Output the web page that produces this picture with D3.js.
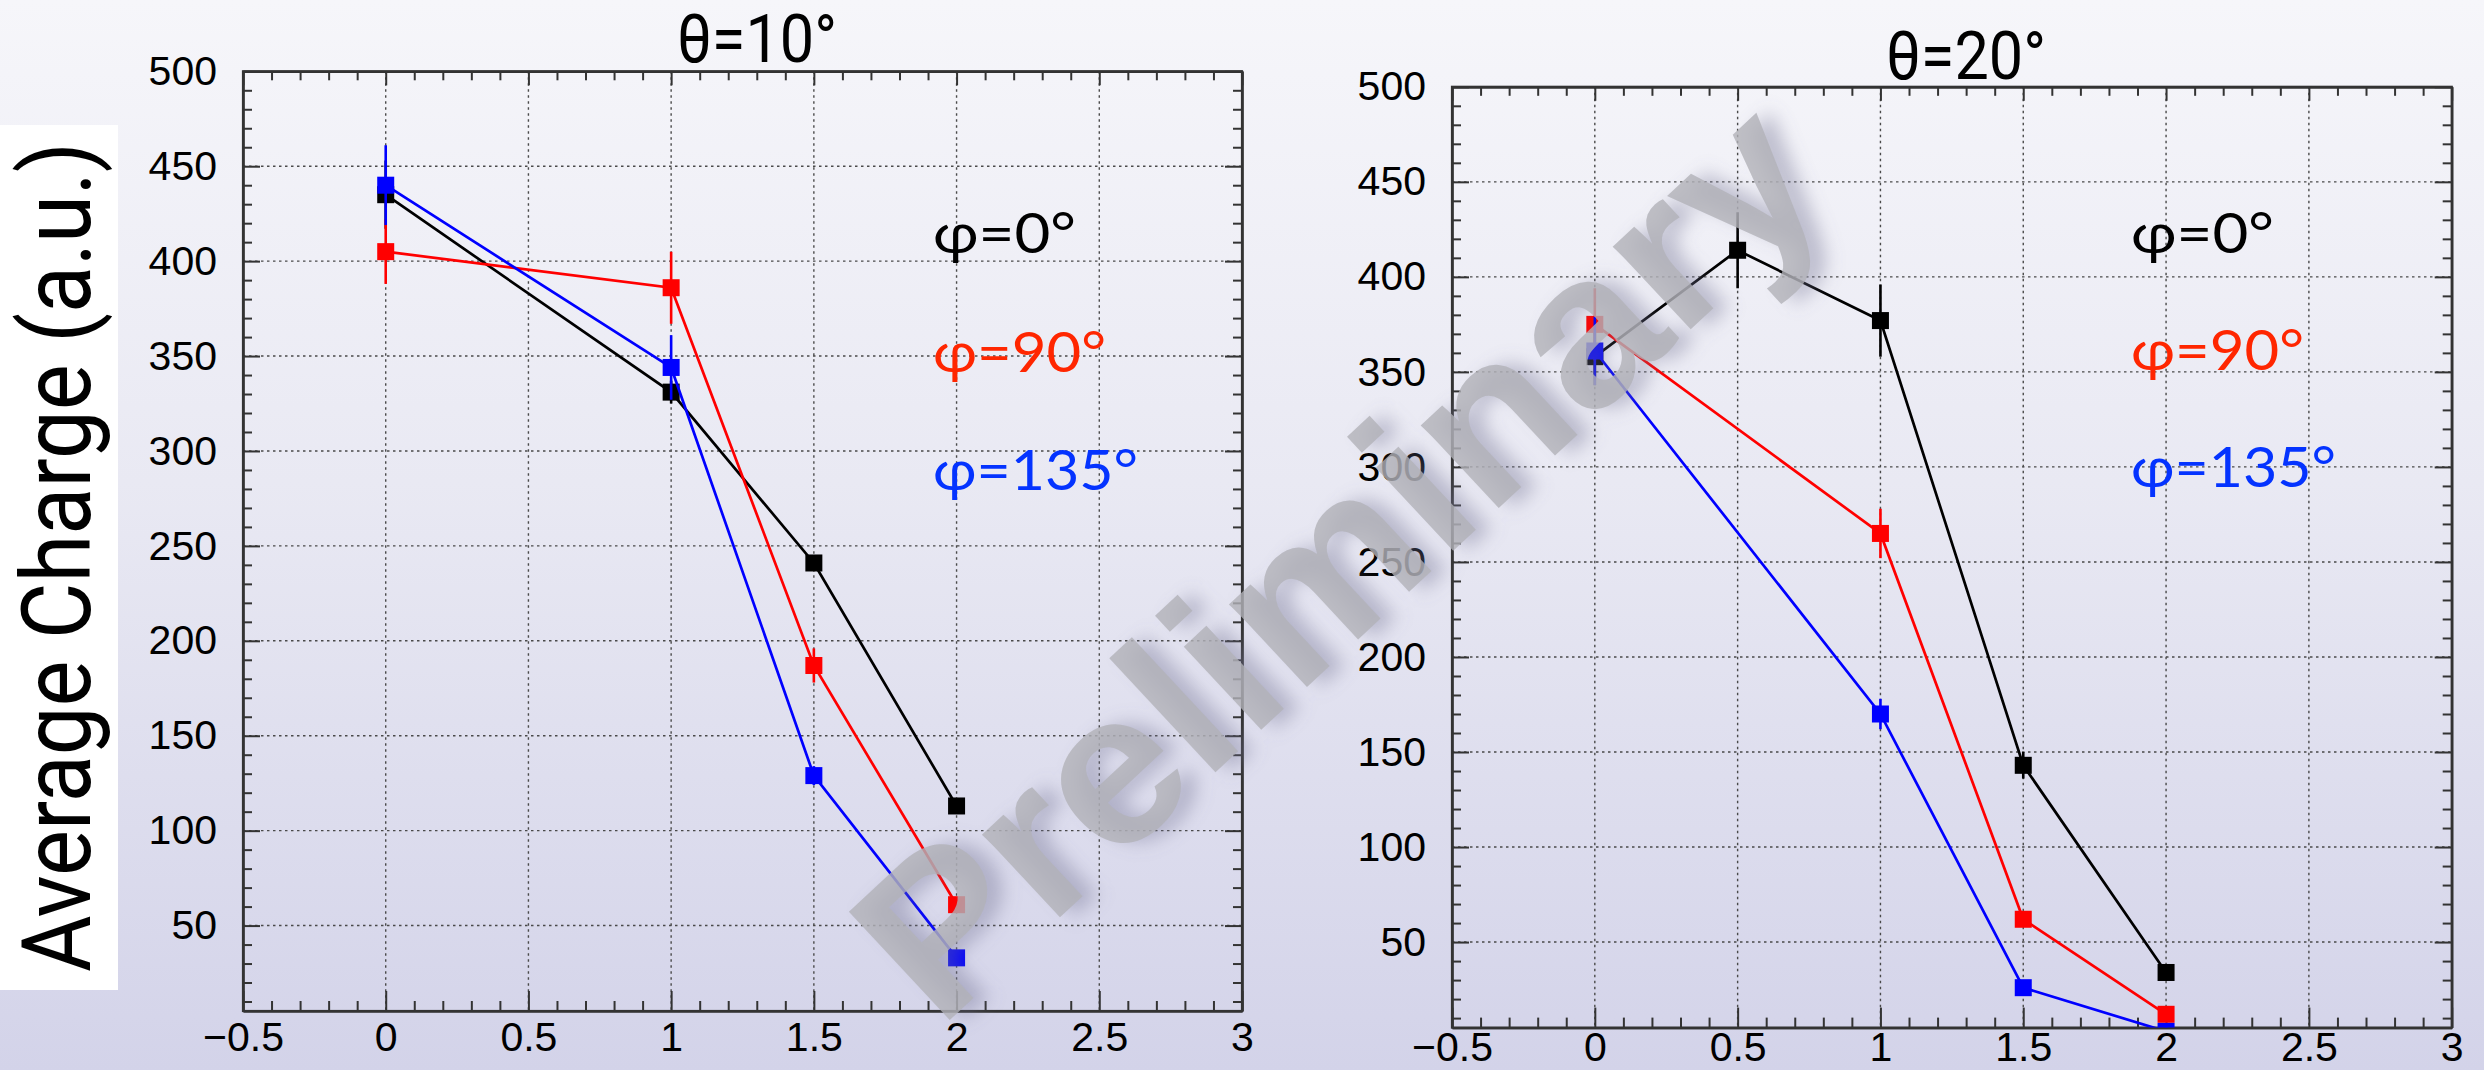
<!DOCTYPE html>
<html>
<head>
<meta charset="utf-8">
<script src="https://cdn.jsdelivr.net/npm/d3@7"></script>
<style>
  html, body { margin: 0; padding: 0; overflow: hidden; }
  body { width: 2484px; height: 1070px; }
  svg { display: block; }
</style>
</head>
<body>
<svg id="chart" width="2484" height="1070"></svg>
<script>
// ---------------- DATA ----------------
const xTickValues = [-0.5, 0, 0.5, 1, 1.5, 2, 2.5, 3];
const xTickLabels = ["\u22120.5", "0", "0.5", "1", "1.5", "2", "2.5", "3"];
const yTickValues = [50, 100, 150, 200, 250, 300, 350, 400, 450, 500];
const yTickLabels = ["50", "100", "150", "200", "250", "300", "350", "400", "450", "500"];

const yAxisTitle = "Average Charge (a.u.)";
const panelTitles = ["\u03b8=10\u00b0", "\u03b8=20\u00b0"];
const seriesNames = ["\u03c6=0\u00b0", "\u03c6=90\u00b0", "\u03c6=135\u00b0"];
const watermarkText = "Preliminary";

// theta = 10 deg
const t10_phi0_x   = [0, 1, 1.5, 2];
const t10_phi0_y   = [435, 331, 241, 113];
const t10_phi0_err = [18, 6, 3, 3];
const t10_phi90_x   = [0, 1, 1.5, 2];
const t10_phi90_y   = [405, 386, 187, 61];
const t10_phi90_err = [17, 19, 9, 3];
const t10_phi135_x   = [0, 1, 1.5, 2];
const t10_phi135_y   = [440, 344, 129, 33];
const t10_phi135_err = [21, 17, 5, 3];

// theta = 20 deg
const t20_phi0_x   = [0, 0.5, 1, 1.5, 2];
const t20_phi0_y   = [358, 414, 377, 143, 34];
const t20_phi0_err = [15, 20, 19, 7, 3];
const t20_phi90_x   = [0, 1, 1.5, 2];
const t20_phi90_y   = [375, 265, 62, 12];
const t20_phi90_err = [19, 13, 3, 3];
const t20_phi135_x   = [0, 1, 1.5, 2];
const t20_phi135_y   = [361, 170, 26, 3];
const t20_phi135_err = [18, 8, 4, 3];

const xDomain = [-0.5, 3];
const yDomain = [5, 500];

// ---------------- STYLE / LAYOUT ----------------
const seriesColors = ["#000000", "#ff0000", "#0000ff"];
const legendColors = ["#000000", "#ff2600", "#0433ff"];
const humanist = "Lato, 'Open Sans', 'DejaVu Sans', sans-serif";
const titleFont = "Roboto, 'Liberation Sans', sans-serif";
const helv = "'Liberation Sans', Arial, sans-serif";

const panels = [
  { left: 243, right: 1242, top: 71.3, bottom: 1011, title: panelTitles[0], titleX: 757, titleY: 62,
    legendX: 933, legendY: [253, 372, 490], labelPad: 11,
    series: [
      { x: t10_phi0_x, y: t10_phi0_y, e: t10_phi0_err },
      { x: t10_phi90_x, y: t10_phi90_y, e: t10_phi90_err },
      { x: t10_phi135_x, y: t10_phi135_y, e: t10_phi135_err } ] },
  { left: 1452, right: 2451.7, top: 86.8, bottom: 1027.6, title: panelTitles[1], titleX: 1966, titleY: 79,
    legendX: 2131, legendY: [253, 370, 487], labelPad: 4,
    series: [
      { x: t20_phi0_x, y: t20_phi0_y, e: t20_phi0_err },
      { x: t20_phi90_x, y: t20_phi90_y, e: t20_phi90_err },
      { x: t20_phi135_x, y: t20_phi135_y, e: t20_phi135_err } ] }
];
const legendWidths = [143, 173, 205];

const svg = d3.select("#chart");
const defs = svg.append("defs");

// background gradient
const grad = defs.append("linearGradient").attr("id", "bg").attr("x1", 0).attr("y1", 0).attr("x2", 0).attr("y2", 1);
grad.append("stop").attr("offset", "0%").attr("stop-color", "#f6f6fa");
grad.append("stop").attr("offset", "45%").attr("stop-color", "#e9e9f3");
grad.append("stop").attr("offset", "100%").attr("stop-color", "#d3d3e9");
svg.append("rect").attr("width", 2484).attr("height", 1070).attr("fill", "url(#bg)");

const blur = defs.append("filter").attr("id", "wmBlur").attr("x", "-20%").attr("y", "-20%").attr("width", "140%").attr("height", "140%");
blur.append("feGaussianBlur").attr("stdDeviation", 9);

// white box + y axis title
svg.append("rect").attr("x", 0).attr("y", 125).attr("width", 118).attr("height", 865).attr("fill", "#ffffff");
svg.append("text")
  .attr("transform", "translate(90,557) rotate(-90)")
  .attr("text-anchor", "middle")
  .attr("font-family", titleFont)
  .attr("font-size", 96)
  .attr("textLength", 830)
  .attr("lengthAdjust", "spacingAndGlyphs")
  .attr("fill", "#000")
  .text(yAxisTitle);

function fmtX(v) { const i = xTickValues.findIndex(t => Math.abs(t - v) < 1e-9); return i >= 0 ? xTickLabels[i] : ""; }
function fmtY(v) { const i = yTickValues.findIndex(t => Math.abs(t - v) < 1e-9); return i >= 0 ? yTickLabels[i] : ""; }

panels.forEach((p, pi) => {
  const x = d3.scaleLinear().domain(xDomain).range([p.left, p.right]);
  const y = d3.scaleLinear().domain(yDomain).range([p.bottom, p.top]);
  const g = svg.append("g");

  const xMinor = d3.range(-5, 31).map(d => d / 10).filter(v => !xTickValues.some(t => Math.abs(t - v) < 1e-9));
  const yMinor = d3.range(10, 500, 10).filter(v => v % 50 !== 0);

  // grid
  const grid = g.append("g").attr("stroke", "#4a4a4a").attr("stroke-width", 1.4).attr("stroke-dasharray", "2.5,3.5");
  grid.selectAll("line.v").data(xTickValues.filter(v => v > xDomain[0] && v < xDomain[1])).join("line")
    .attr("x1", d => x(d)).attr("x2", d => x(d)).attr("y1", p.top).attr("y2", p.bottom);
  grid.selectAll("line.h").data(yTickValues.filter(v => v > yDomain[0] && v < yDomain[1])).join("line")
    .attr("x1", p.left).attr("x2", p.right).attr("y1", d => y(d)).attr("y2", d => y(d));

  function styleAxis(sel) {
    sel.selectAll("path").attr("stroke", "#333").attr("stroke-width", 2.2);
    sel.selectAll("line").attr("stroke", "#333").attr("stroke-width", 2);
  }
  // bottom
  const bx = g.append("g").attr("transform", `translate(0,${p.bottom})`)
    .call(d3.axisBottom(x).tickValues(xTickValues).tickFormat(fmtX).tickSize(-20).tickSizeOuter(0).tickPadding(p.labelPad));
  styleAxis(bx);
  bx.selectAll("text").attr("font-family", helv).attr("font-size", 41).attr("fill", "#000");
  const bxm = g.append("g").attr("transform", `translate(0,${p.bottom})`)
    .call(d3.axisBottom(x).tickValues(xMinor).tickFormat("").tickSize(-10).tickSizeOuter(0));
  styleAxis(bxm);
  // top
  const tx = g.append("g").attr("transform", `translate(0,${p.top})`)
    .call(d3.axisTop(x).tickValues(xTickValues).tickFormat("").tickSize(-14).tickSizeOuter(0));
  styleAxis(tx);
  const txm = g.append("g").attr("transform", `translate(0,${p.top})`)
    .call(d3.axisTop(x).tickValues(xMinor).tickFormat("").tickSize(-9).tickSizeOuter(0));
  styleAxis(txm);
  // left
  const ly = g.append("g").attr("transform", `translate(${p.left},0)`)
    .call(d3.axisLeft(y).tickValues(yTickValues).tickFormat(fmtY).tickSize(-17).tickSizeOuter(0).tickPadding(26));
  styleAxis(ly);
  ly.selectAll("text").attr("font-family", helv).attr("font-size", 41).attr("fill", "#000");
  const lym = g.append("g").attr("transform", `translate(${p.left},0)`)
    .call(d3.axisLeft(y).tickValues(yMinor).tickFormat("").tickSize(-9).tickSizeOuter(0));
  styleAxis(lym);
  // right
  const ry = g.append("g").attr("transform", `translate(${p.right},0)`)
    .call(d3.axisRight(y).tickValues(yTickValues).tickFormat("").tickSize(-17).tickSizeOuter(0));
  styleAxis(ry);
  const rym = g.append("g").attr("transform", `translate(${p.right},0)`)
    .call(d3.axisRight(y).tickValues(yMinor).tickFormat("").tickSize(-9).tickSizeOuter(0));
  styleAxis(rym);
  g.append("rect").attr("x", p.left).attr("y", p.top).attr("width", p.right - p.left).attr("height", p.bottom - p.top)
    .attr("fill", "none").attr("stroke", "#333").attr("stroke-width", 2.2);

  // clip
  const cid = "clip" + pi;
  defs.append("clipPath").attr("id", cid).append("rect")
    .attr("x", p.left).attr("y", p.top).attr("width", p.right - p.left).attr("height", p.bottom - p.top);
  const dg = g.append("g").attr("clip-path", `url(#${cid})`);

  p.series.forEach((s, si) => {
    const pts = s.x.map((xv, i) => ({ x: xv, y: s.y[i], e: s.e[i] }));
    const col = seriesColors[si];
    const sg = dg.append("g");
    sg.append("path").datum(pts)
      .attr("d", d3.line().x(d => x(d.x)).y(d => y(d.y)))
      .attr("fill", "none").attr("stroke", col).attr("stroke-width", 2.7);
    sg.selectAll("line.err").data(pts).join("line")
      .attr("x1", d => x(d.x)).attr("x2", d => x(d.x))
      .attr("y1", d => y(d.y - d.e)).attr("y2", d => y(d.y + d.e))
      .attr("stroke", col).attr("stroke-width", 2.6);
    sg.selectAll("rect.m").data(pts).join("rect")
      .attr("x", d => x(d.x) - 8.5).attr("y", d => y(d.y) - 8.5)
      .attr("width", 17).attr("height", 17).attr("fill", col);
  });

  // title
  g.append("text").attr("x", p.titleX).attr("y", p.titleY).attr("text-anchor", "middle")
    .attr("font-family", titleFont).attr("font-size", 66).attr("fill", "#000")
    .attr("textLength", 160).attr("lengthAdjust", "spacingAndGlyphs")
    .text(p.title);

  // legend texts
  seriesNames.forEach((n, i) => {
    g.append("text").attr("x", p.legendX).attr("y", p.legendY[i])
      .attr("font-family", humanist).attr("font-size", 56).attr("fill", legendColors[i])
      .attr("textLength", legendWidths[i]).attr("lengthAdjust", "spacingAndGlyphs")
      .text(n);
  });
});

// watermark
const wm = svg.append("g").attr("transform", "translate(1334,556) rotate(-43)");
wm.append("text").attr("x", 12).attr("y", 10).attr("dy", "0.36em").attr("text-anchor", "middle")
  .attr("font-family", helv).attr("font-weight", "bold").attr("font-size", 215)
  .attr("textLength", 1225).attr("lengthAdjust", "spacingAndGlyphs")
  .attr("fill", "#707090").attr("fill-opacity", 0.4).attr("filter", "url(#wmBlur)")
  .text(watermarkText);
wm.append("text").attr("x", 0).attr("y", 0).attr("dy", "0.36em").attr("text-anchor", "middle")
  .attr("font-family", helv).attr("font-weight", "bold").attr("font-size", 215)
  .attr("textLength", 1225).attr("lengthAdjust", "spacingAndGlyphs")
  .attr("fill", "#b2b2b8").attr("fill-opacity", 0.8)
  .text(watermarkText);
</script>
</body>
</html>
